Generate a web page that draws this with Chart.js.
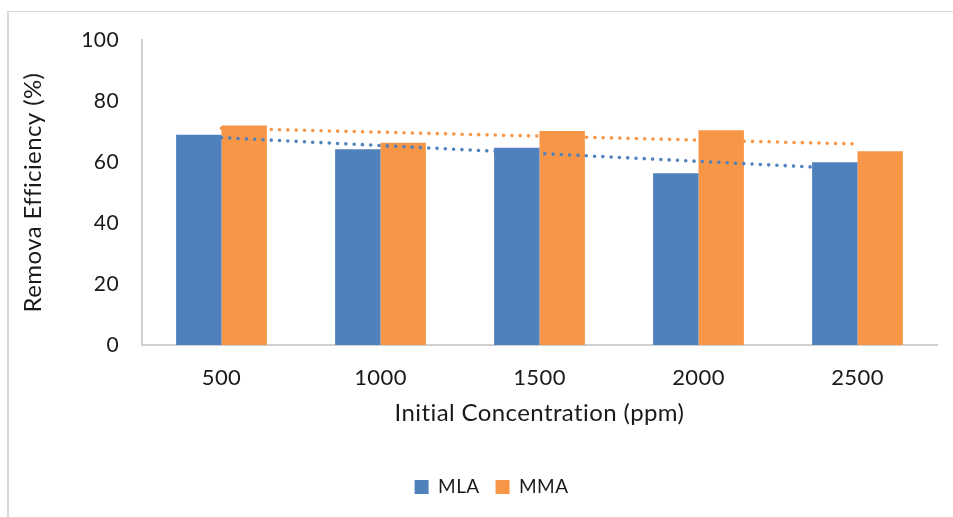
<!DOCTYPE html>
<html>
<head>
<meta charset="utf-8">
<script src="https://cdn.jsdelivr.net/npm/chart.js@4/dist/chart.umd.min.js"></script>
<style>
  html, body { margin: 0; padding: 0; background: #ffffff; }
  #wrap { position: relative; width: 953px; height: 517px; overflow: hidden; }
  #frame { position: absolute; left: 7px; top: 11px; width: 960px; height: 520px;
           border-left: 2px solid #d9d9d9; border-top: 1px solid #d9d9d9; }
  canvas { position: absolute; left: 0; top: 0; }
</style>
</head>
<body>
<div id="wrap">
  <div id="frame"></div>
  <canvas id="chart" width="953" height="517"></canvas>
</div>
<script>
// Initial concentration categories (ppm)
const categories = ['500', '1000', '1500', '2000', '2500'];
// Removal efficiency (%) per adsorbent
const mlaValues = [68.9, 64.2, 64.7, 56.3, 59.9];
const mmaValues = [72.0, 66.3, 70.2, 70.4, 63.5];
// Y axis tick values
const yTickValues = [0, 20, 40, 60, 80, 100];

const BLUE = '#4F81BD';
const ORANGE = '#F79646';
const TEXT = '#1a1a1a';
const AXIS = '#cfcfcf';
const FONT = 'Lato';

// Least-squares linear trend evaluated at each category position
function linearTrend(values) {
  const n = values.length;
  const xs = values.map((_, i) => i + 1);
  const mx = xs.reduce((a, b) => a + b, 0) / n;
  const my = values.reduce((a, b) => a + b, 0) / n;
  let num = 0, den = 0;
  xs.forEach((x, i) => { num += (x - mx) * (values[i] - my); den += (x - mx) * (x - mx); });
  const slope = num / den;
  return xs.map(x => my + slope * (x - mx));
}

// Slight tracking keeps letters apart (no "ti" ligature) and widens text a touch
const spacingPlugin = {
  id: 'letterSpacing',
  beforeUpdate(chart) { chart.ctx.letterSpacing = '0.4px'; },
  beforeDraw(chart) { chart.ctx.letterSpacing = '0.4px'; }
};

const trendStyle = {
  type: 'line',
  borderWidth: 3.6,
  borderDash: [0, 8.3],
  borderCapStyle: 'round',
  pointRadius: 0,
  pointHoverRadius: 0,
  fill: false,
  tension: 0,
  order: 1
};

new Chart(document.getElementById('chart'), {
  type: 'bar',
  plugins: [spacingPlugin],
  data: {
    labels: categories,
    datasets: [
      { label: 'MLA', data: mlaValues, backgroundColor: BLUE, order: 2 },
      { label: 'MMA', data: mmaValues, backgroundColor: ORANGE, order: 2 },
      Object.assign({ label: 'Linear (MLA)', data: linearTrend(mlaValues), borderColor: BLUE }, trendStyle),
      Object.assign({ label: 'Linear (MMA)', data: linearTrend(mmaValues), borderColor: ORANGE }, trendStyle)
    ]
  },
  options: {
    responsive: false,
    animation: false,
    datasets: { bar: { categoryPercentage: 0.571, barPercentage: 1.0 } },
    layout: { padding: { left: 46, top: 40, right: 16, bottom: 10.5 } },
    plugins: {
      tooltip: { enabled: false },
      legend: {
        position: 'bottom',
        labels: {
          boxWidth: 14,
          boxHeight: 14,
          padding: 16,
          color: TEXT,
          font: { family: FONT, size: 19 },
          filter: (item) => item.datasetIndex < 2
        }
      }
    },
    scales: {
      x: {
        grid: { display: false, drawTicks: false },
        border: { display: true, color: AXIS, width: 2 },
        ticks: { color: TEXT, padding: 19.8, font: { family: FONT, size: 22 } },
        title: {
          display: true,
          text: 'Initial Concentration (ppm)',
          color: TEXT,
          font: { family: FONT, size: 24 },
          padding: { top: 0, bottom: 34.1 }
        },
        afterFit: (scale) => { scale.height = 116.5; }
      },
      y: {
        min: 0,
        max: 100,
        afterBuildTicks: (scale) => { scale.ticks = yTickValues.map(v => ({ value: v })); },
        grid: { display: false, drawTicks: false },
        border: { display: true, color: AXIS, width: 2 },
        ticks: { color: TEXT, padding: 23, font: { family: FONT, size: 21 } },
        title: {
          display: true,
          text: 'Remova Efficiency (%)',
          color: TEXT,
          font: { family: FONT, size: 24 },
          padding: { top: -27.4, bottom: 0 }
        },
        afterFit: (scale) => { scale.width = 96; }
      }
    }
  }
});
</script>
</body>
</html>
